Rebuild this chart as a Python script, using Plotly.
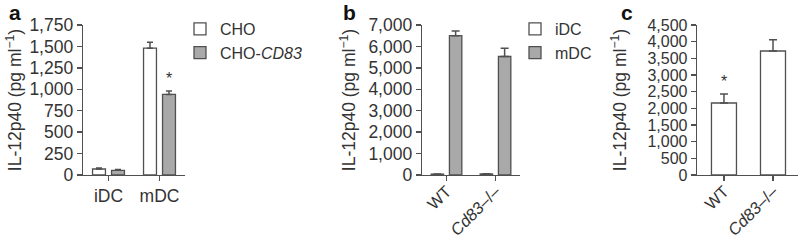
import plotly.graph_objects as go

# ---------------- data ----------------
a_categories = ["iDC", "mDC"]
a_cho = [70, 1480]
a_cho_err = [12, 70]
a_cd83 = [55, 940]
a_cd83_err = [8, 40]

b_categories = ["WT", "Cd83-/-"]
b_tick_text = ["WT", "<i>Cd83</i>–/–"]
b_idc = [40, 50]
b_idc_err = [8, 10]
b_mdc = [6500, 5530]
b_mdc_err = [220, 380]

c_categories = ["WT", "Cd83-/-"]
c_tick_text = ["WT", "<i>Cd83</i>–/–"]
c_values = [2160, 3720]
c_err = [270, 340]

a_yticks = [0, 250, 500, 750, 1000, 1250, 1500, 1750]
b_yticks = [0, 1000, 2000, 3000, 4000, 5000, 6000, 7000]
c_yticks = [0, 500, 1000, 1500, 2000, 2500, 3000, 3500, 4000, 4500]

# ---------------- style ----------------
FONT = "Liberation Sans, Arial, sans-serif"
TXT = "#333333"
EDGE = "#505050"
GREY = "#a9a9a9"
FS = 17.5
W, H = 799, 240


def px(x):
    return x / W


def py(y):
    return 1 - y / H


def bar(x, y, err, fill, name, xa, ya, legend, showlegend=True, width=None, capw=3):
    return go.Bar(
        x=x, y=y, name=name, xaxis=xa, yaxis=ya, legend=legend,
        showlegend=showlegend, width=width,
        marker=dict(color=fill, line=dict(color=EDGE, width=1.3)),
        error_y=dict(type="data", symmetric=False, array=err,
                     arrayminus=[0] * len(err), color=EDGE,
                     thickness=1.5, width=capw),
        hoverinfo="skip",
    )


fig = go.Figure()
fig.add_trace(bar(a_categories, a_cho, a_cho_err, "white", "CHO", "x", "y", "legend"))
fig.add_trace(bar(a_categories, a_cd83, a_cd83_err, GREY, "CHO-<i>CD83</i>", "x", "y", "legend"))
fig.add_trace(bar(b_categories, b_idc, b_idc_err, "white", "iDC", "x2", "y2", "legend2", capw=4))
fig.add_trace(bar(b_categories, b_mdc, b_mdc_err, GREY, "mDC", "x2", "y2", "legend2", capw=4))
fig.add_trace(bar(c_categories, c_values, c_err, "white", "c", "x3", "y3", "legend",
                  showlegend=False, width=0.51, capw=4))

ytitle = "IL-12p40 (pg ml<sup>−1</sup>)"


def xaxis(domain, rng, anchor, ticktext=None, cats=None, angle=0, fs=FS, standoff=0):
    d = dict(domain=domain, range=rng, anchor=anchor,
             showline=True, linecolor=EDGE, linewidth=1.3,
             ticks="outside", ticklen=5, tickwidth=1.3, tickcolor=EDGE,
             showgrid=False, zeroline=False, automargin=False,
             tickfont=dict(family=FONT, size=fs, color=TXT), tickangle=angle,
             ticklabelstandoff=standoff, fixedrange=True)
    if ticktext is not None:
        d.update(tickmode="array", tickvals=cats, ticktext=ticktext)
    return d


def yaxis(rng, ticks, anchor, standoff, fs=FS):
    return dict(domain=[py(175), py(25)], range=rng, anchor=anchor,
                showline=True, linecolor=EDGE, linewidth=1.3,
                ticks="outside", ticklen=5, tickwidth=1.3, tickcolor=EDGE,
                tickmode="array", tickvals=ticks,
                ticktext=[f"{v:,}" for v in ticks],
                showgrid=False, zeroline=False, automargin=False,
                tickfont=dict(family=FONT, size=fs, color=TXT),
                title=dict(text=ytitle, font=dict(family=FONT, size=FS, color=TXT),
                           standoff=standoff),
                fixedrange=True)


legend_style = dict(xanchor="left", yanchor="top",
                    font=dict(family=FONT, size=16, color=TXT),
                    bgcolor="rgba(0,0,0,0)", itemwidth=30, tracegroupgap=0,
                    traceorder="normal")

fig.update_layout(
    width=W, height=H, autosize=False,
    margin=dict(l=0, r=0, t=0, b=0, pad=0),
    paper_bgcolor="white", plot_bgcolor="white",
    barmode="group", bargap=0.255, bargroupgap=0.32,
    font=dict(family=FONT, size=FS, color=TXT),
    hovermode=False,
    xaxis=xaxis([px(83), px(185)], [-0.5, 1.5], "y"),
    yaxis=yaxis([0, 1750], a_yticks, "x", 3),
    xaxis2=xaxis([px(422), px(520)], [-0.5, 1.5], "y2", b_tick_text, b_categories,
                 -45, fs=16.5, standoff=-6),
    yaxis2=yaxis([0, 7000], b_yticks, "x2", 8),
    xaxis3=xaxis([px(697), px(798)], [-0.55, 1.51], "y3", c_tick_text, c_categories,
                 -45, fs=16.5, standoff=-6),
    yaxis3=yaxis([0, 4500], c_yticks, "x3", 16, fs=16),
    legend=dict(x=px(180), y=py(12), **legend_style),
    legend2=dict(x=px(515), y=py(12), **legend_style),
    showlegend=True,
)

# panel letters
for letter, xpos, ypos in [("a", 15, 12), ("b", 349, 12), ("c", 627, 12)]:
    fig.add_annotation(text=f"<b>{letter}</b>", xref="paper", yref="paper",
                       x=px(xpos), y=py(ypos), showarrow=False,
                       font=dict(family=FONT, size=21, color="#111111"),
                       xanchor="center", yanchor="middle")

# significance asterisks
fig.add_annotation(text="*", xref="x", yref="y", x="mDC",
                   y=a_cd83[1] + a_cd83_err[1], xshift=9.5, yshift=2,
                   showarrow=False, yanchor="bottom",
                   font=dict(family=FONT, size=16, color=TXT))
fig.add_annotation(text="*", xref="x3", yref="y3", x="WT",
                   y=c_values[0] + c_err[0], yshift=2,
                   showarrow=False, yanchor="bottom",
                   font=dict(family=FONT, size=16, color=TXT))

fig.write_html("out.html",
               config={"displayModeBar": False, "staticPlot": True},
               post_script="document.body.style.margin='0';document.body.style.padding='0';")
